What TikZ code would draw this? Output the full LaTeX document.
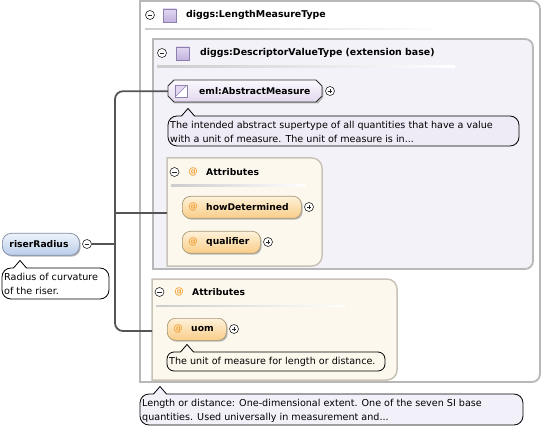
\documentclass[tikz,border=0pt]{standalone}
\usepackage{fontspec}
\setmainfont{DejaVu Sans}
\usetikzlibrary{shapes.misc,shadows}
\definecolor{boxgray}{HTML}{B8B8B8}
\definecolor{innerfill}{HTML}{F4F2F9}
\definecolor{attrfill}{HTML}{FDF8EE}
\definecolor{attrborder}{HTML}{C9C3B7}
\definecolor{pilltop}{HTML}{FEF1D9}
\definecolor{pillbot}{HTML}{F9CD88}
\definecolor{pillborder}{HTML}{A89878}
\definecolor{atcol}{HTML}{F2A33A}
\definecolor{bluetop}{HTML}{EEF3FB}
\definecolor{bluebot}{HTML}{B9CCE8}
\definecolor{blueborder}{HTML}{7D8CA3}
\definecolor{lavtop}{HTML}{FBF8FD}
\definecolor{lavbot}{HTML}{E3D8EE}
\definecolor{sqtop}{HTML}{E2D8F1}
\definecolor{sqbot}{HTML}{C2B1DE}
\definecolor{sqborder}{HTML}{8D7FAE}
\definecolor{tiplav}{HTML}{EFEBF6}
\definecolor{tipbot}{HTML}{F2F0F9}
\definecolor{conncol}{HTML}{555555}
\begin{document}
\begin{tikzpicture}[x=1pt,y=-1pt,
  btn/.style={circle, draw=black!85, line width=0.6pt, fill=white, minimum size=9pt, inner sep=0pt},
  minusbtn/.style={btn, path picture={\draw[line width=0.7pt] ([xshift=-2.4pt]path picture bounding box.center) -- ([xshift=2.4pt]path picture bounding box.center);}},
  plusbtn/.style={btn, path picture={\draw[line width=0.7pt] ([xshift=-2.4pt]path picture bounding box.center) -- ([xshift=2.4pt]path picture bounding box.center) ([yshift=-2.4pt]path picture bounding box.center) -- ([yshift=2.4pt]path picture bounding box.center);}},
  nametext/.style={font=\fontsize{9.2}{11}\selectfont\bfseries, inner sep=0pt, anchor=west},
  attext/.style={font=\fontsize{9.5}{11}\selectfont\bfseries, text=atcol, inner sep=0pt},
  tiptext/.style={font=\fontsize{9.6}{14}\selectfont, align=left, inner sep=0pt, anchor=north west},
  tipline/.style={draw=black, line width=0.8pt},
  pillshadow/.style={drop shadow={shadow xshift=1.3pt, shadow yshift=-1.3pt, fill=black!35, opacity=0.8}},
  attrpill/.style={draw=pillborder, line width=0.7pt, rounded corners=8pt, top color=pilltop, bottom color=pillbot, pillshadow, minimum height=22pt, anchor=north west, inner sep=0pt},
  bluepill/.style={draw=blueborder, line width=0.7pt, rounded corners=9pt, top color=bluetop, bottom color=bluebot, pillshadow, minimum height=22pt, anchor=north west, inner sep=0pt},
  sqicon/.style={draw=sqborder, line width=0.6pt, top color=sqtop, bottom color=sqbot},
  outerbox/.style={draw=boxgray, line width=1.8pt, fill=white},
  innerbox/.style={draw=boxgray, line width=1.8pt, fill=innerfill},
  attrbox/.style={draw=attrborder, line width=1.5pt, fill=attrfill},
  conn/.style={draw=conncol, line width=1.8pt, rounded corners=8pt},
  sep/.style={left color=black!20, right color=white, draw=none}
]
\useasboundingbox (0,0) rectangle (543,430);

% outer box: diggs:LengthMeasureType
\draw[outerbox] (140,1) -- (532,1) arc(-90:0:8) -- (540,374) arc(0:90:8) -- (140,382) -- cycle;
\node[minusbtn] (b-lmt) at (150,15) {};
\shade[sqicon] (163,9) rectangle (176,22);
\node[nametext, font=\fontsize{9.4}{11}\selectfont\bfseries] (t-lmt) at (186,15) {diggs:LengthMeasureType};
\shade[sep] (145,28.5) rectangle (445,30);

% inner box: diggs:DescriptorValueType
\draw[innerbox] (153,39) -- (525,39) arc(-90:0:8) -- (533,261) arc(0:90:8) -- (153,269) -- cycle;
\node[minusbtn] (b-dvt) at (162,53) {};
\shade[sqicon] (176,47) rectangle (189,60);
\node[nametext, font=\fontsize{9.4}{11}\selectfont\bfseries] (t-dvt) at (200,53) {diggs:DescriptorValueType (extension base)};
\shade[sep] (157,66) rectangle (455,67.5);

% eml:AbstractMeasure
\node[minimum width=154pt, minimum height=22pt, inner sep=0pt, anchor=north west] (eml) at (168,80) {};
\fill[black!35, opacity=0.8] (169.3,87.3) -- (174.3,81.3) -- (318.3,81.3) -- (323.3,87.3) -- (323.3,97.3) -- (318.3,103.3) -- (174.3,103.3) -- (169.3,97.3) -- cycle;
\shade[draw=black!80, line width=0.8pt, top color=lavtop, bottom color=lavbot]
  (168,86) -- (174,80) -- (316,80) -- (322,86) -- (322,96) -- (316,102) -- (174,102) -- (168,96) -- cycle;
\draw[draw=sqborder, line width=0.6pt, fill=white] (175,85) rectangle (187,97);
\fill[sqtop] (176,96) -- (186,86) -- (176,86) -- cycle;
\draw[sqborder, line width=0.6pt] (176,96) -- (186,86);
\node[nametext] (t-eml) at (199,91) {eml:AbstractMeasure};
\node[plusbtn] (b-eml) at (330,91) {};

% tooltip eml
\draw[tipline, fill=tiplav, rounded corners=9pt] (168,116) rectangle (519,146);
\fill[tiplav] (181.5,116.8) -- (188,108.5) -- (194.5,116.8) -- cycle;
\draw[tipline] (181.5,116) -- (188,108.5) -- (194.5,116);
\node[tiptext] (tip-eml) at (170,121.5) {The intended abstract supertype of all quantities that have a value\\with a unit of measure. The unit of measure is in...};

% Attributes box 1
\draw[attrbox] (167,158) -- (312,158) arc(-90:0:10) -- (322,256) arc(0:90:10) -- (167,266) -- cycle;
\node[minusbtn] (b-at1) at (174.5,172) {};
\node[attext] (at-at1) at (193,172) {@};
\node[nametext] (t-at1) at (206,172) {Attributes};
\shade[sep] (171,185) rectangle (305,186.5);

\node[attrpill, minimum width=119pt] (hd) at (182,196) {};
\node[attext] (at-hd) at (193,207) {@};
\node[nametext] (t-hd) at (206,207) {howDetermined};
\node[plusbtn] (b-hd) at (309,207) {};

\node[attrpill, minimum width=78pt] (ql) at (182,231) {};
\node[attext] (at-ql) at (193,242) {@};
\node[nametext] (t-ql) at (206,242) {qualifier};
\node[plusbtn] (b-ql) at (268,242) {};

% riserRadius
\node[bluepill, minimum width=77pt] (rr) at (2,233) {};
\node[nametext, anchor=center] (t-rr) at (39,244) {riserRadius};
\node[minusbtn] (b-rr) at (87,244) {};
\draw[tipline, fill=white, rounded corners=9pt] (2,268) rectangle (109,299);
\fill[white] (13.5,268.8) -- (20,260.5) -- (26.5,268.8) -- cycle;
\draw[tipline] (13.5,268) -- (20,260.5) -- (26.5,268);
\node[tiptext] (tip-rr) at (4,273.5) {Radius of curvature\\of the riser.};

% Attributes box 2
\draw[attrbox] (152,279) -- (387,279) arc(-90:0:10) -- (397,370) arc(0:90:10) -- (152,380) -- cycle;
\node[minusbtn] (b-at2) at (159.5,292) {};
\node[attext] (at-at2) at (179,292) {@};
\node[nametext] (t-at2) at (192,292) {Attributes};
\shade[sep] (156,305) rectangle (345,306.5);

\node[attrpill, minimum width=59pt] (uom) at (167,318) {};
\node[attext] (at-uom) at (178,329) {@};
\node[nametext] (t-uom) at (191,329) {uom};
\node[plusbtn] (b-uom) at (234,329) {};

\draw[tipline, fill=attrfill, rounded corners=7pt] (167,352) rectangle (385,371);
\fill[attrfill] (180.5,352.8) -- (187,344.5) -- (193.5,352.8) -- cycle;
\draw[tipline] (180.5,352) -- (187,344.5) -- (193.5,352);
\node[tiptext] (tip-uom) at (169,357.5) {The unit of measure for length or distance.};

% bottom tooltip
\draw[tipline, fill=tipbot, rounded corners=9pt] (140,394) rectangle (523,425);
\fill[tipbot] (153.5,394.8) -- (160,386.5) -- (166.5,394.8) -- cycle;
\draw[tipline] (153.5,394) -- (160,386.5) -- (166.5,394);
\node[tiptext] (tip-lmt) at (142,399.5) {Length or distance: One-dimensional extent. One of the seven SI base\\quantities. Used universally in measurement and...};

% connectors
\coordinate (j) at (115,244);
\coordinate (a1) at (167,213);
\coordinate (a2) at (152,331);
\draw[conncol, line width=2.8pt] (b-rr.east) -- (j);
\draw[conn] (eml.west) -| (j);
\draw[conn] (a2) -| (j);
\draw[conncol, line width=1.8pt] (a1) -- (a1 -| j);
\end{tikzpicture}
\end{document}
